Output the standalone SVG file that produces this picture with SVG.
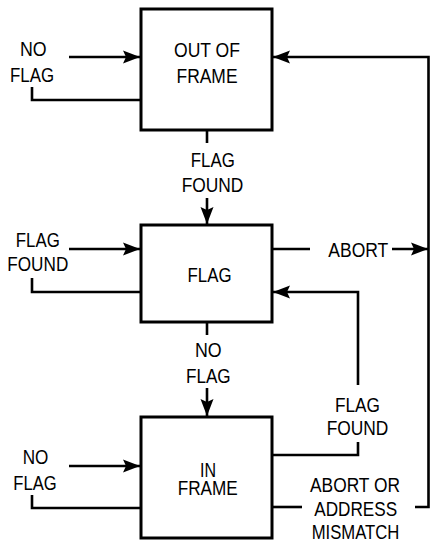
<svg xmlns="http://www.w3.org/2000/svg" width="431" height="542" viewBox="0 0 431 542">
<style>
.box{fill:#fff;stroke:#000;stroke-width:3}
.ln{fill:none;stroke:#000;stroke-width:2.6}
text{font-family:"Liberation Sans",Arial,sans-serif;font-size:20px;fill:#000;text-anchor:middle}
</style>
<defs>
<marker id="ah" markerUnits="userSpaceOnUse" viewBox="-18 -7 19 14" refX="0" refY="0" markerWidth="19" markerHeight="14" orient="auto">
<path d="M0,0 L-17,-6.5 L-14,0 L-17,6.5 Z" fill="#000"/>
</marker>
</defs>
<g id="connectors">
<path class="ln" d="M69,57 H140" marker-end="url(#ah)"/>
<path class="ln" d="M32,87 V100 H141"/>
<path class="ln" d="M415,507 H428.5 V57 H273" marker-end="url(#ah)"/>
<path class="ln" d="M207,130 V143"/>
<path class="ln" d="M207,198 V224" marker-end="url(#ah)"/>
<path class="ln" d="M69,249 H140" marker-end="url(#ah)"/>
<path class="ln" d="M32,278 V292 H141"/>
<path class="ln" d="M272,249 H310"/>
<path class="ln" d="M392,249 H428" marker-end="url(#ah)"/>
<path class="ln" d="M272,455 H358 V442"/>
<path class="ln" d="M358,385 V292 H273" marker-end="url(#ah)"/>
<path class="ln" d="M207,322 V335"/>
<path class="ln" d="M207,388 V416" marker-end="url(#ah)"/>
<path class="ln" d="M69,466 H140" marker-end="url(#ah)"/>
<path class="ln" d="M32,495 V508 H141"/>
<path class="ln" d="M272,507 H302"/>
</g>
<g id="out-of-frame">
<rect class="box" x="141" y="9" width="131" height="121"/>
<text x="207" y="57" textLength="66" lengthAdjust="spacingAndGlyphs">OUT OF</text>
<text x="207" y="83" textLength="61" lengthAdjust="spacingAndGlyphs">FRAME</text>
</g>
<g id="flag">
<rect class="box" x="141" y="225" width="131" height="97"/>
<text x="209.5" y="281.5" textLength="44" lengthAdjust="spacingAndGlyphs">FLAG</text>
</g>
<g id="in-frame">
<rect class="box" x="141" y="417" width="131" height="121"/>
<text><tspan x="208" y="477" textLength="16" lengthAdjust="spacingAndGlyphs">IN</tspan><tspan x="207.7" y="495" textLength="60" lengthAdjust="spacingAndGlyphs">FRAME</tspan></text>
</g>
<g id="labels">
<text x="33.3" y="56.3" textLength="26.7" lengthAdjust="spacingAndGlyphs">NO</text>
<text x="32" y="82.3" textLength="44" lengthAdjust="spacingAndGlyphs">FLAG</text>
<text x="212.8" y="166.7" textLength="44" lengthAdjust="spacingAndGlyphs">FLAG</text>
<text x="212.5" y="191.7" textLength="61.7" lengthAdjust="spacingAndGlyphs">FOUND</text>
<text x="37.8" y="247" textLength="44" lengthAdjust="spacingAndGlyphs">FLAG</text>
<text x="37.8" y="271" textLength="61" lengthAdjust="spacingAndGlyphs">FOUND</text>
<text x="358.3" y="256.7" textLength="60" lengthAdjust="spacingAndGlyphs">ABORT</text>
<text x="208.3" y="356.7" textLength="26.7" lengthAdjust="spacingAndGlyphs">NO</text>
<text x="208.3" y="382.7" textLength="44.7" lengthAdjust="spacingAndGlyphs">FLAG</text>
<text x="357.5" y="411.7" textLength="45" lengthAdjust="spacingAndGlyphs">FLAG</text>
<text x="357.5" y="435" textLength="61.7" lengthAdjust="spacingAndGlyphs">FOUND</text>
<text x="35.5" y="464.3" textLength="25.7" lengthAdjust="spacingAndGlyphs">NO</text>
<text x="35" y="489.5" textLength="43.3" lengthAdjust="spacingAndGlyphs">FLAG</text>
<text x="355" y="491.5" textLength="90" lengthAdjust="spacingAndGlyphs">ABORT OR</text>
<text x="355.7" y="515.5" textLength="83" lengthAdjust="spacingAndGlyphs">ADDRESS</text>
<text x="355.5" y="538.5" textLength="87.7" lengthAdjust="spacingAndGlyphs">MISMATCH</text>
</g>
</svg>
